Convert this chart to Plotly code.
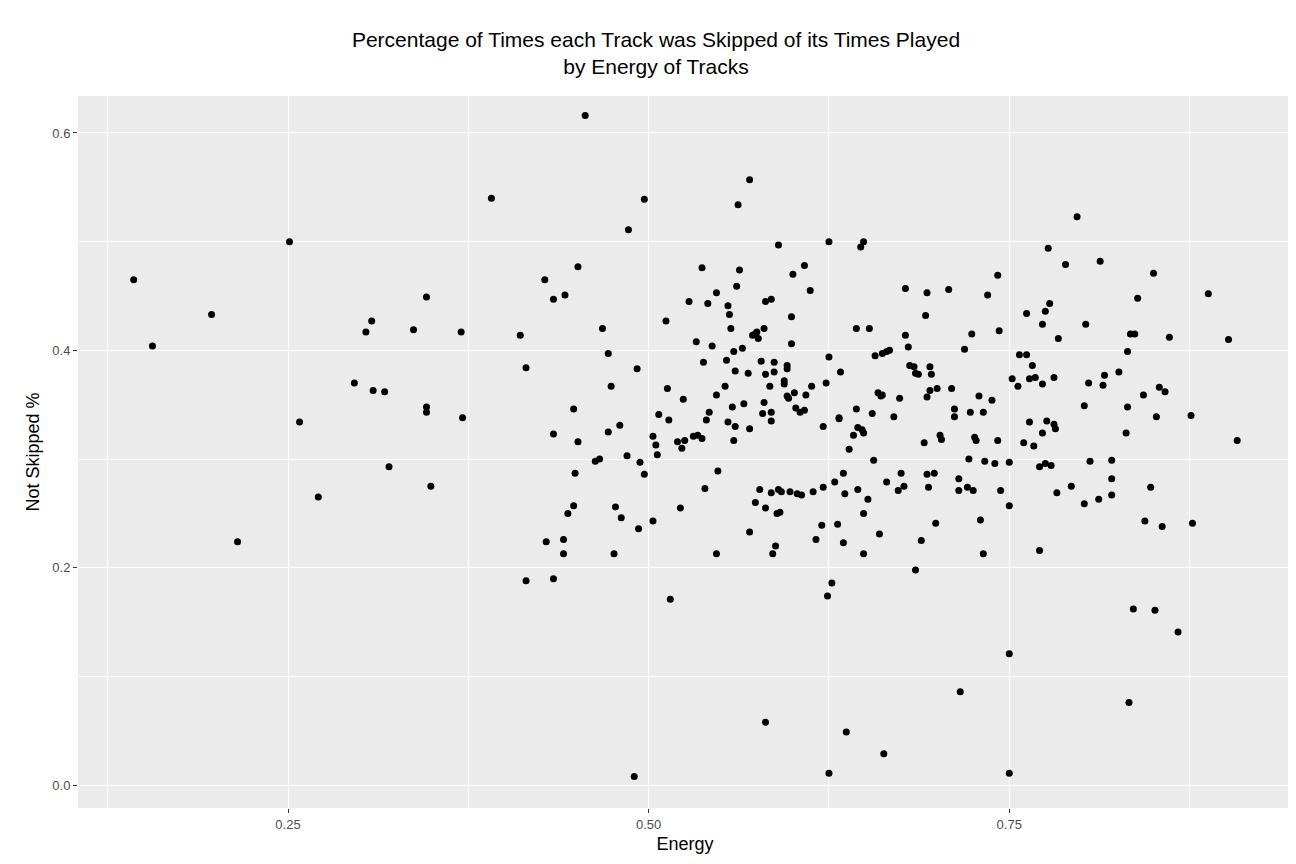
import plotly.graph_objects as go

# Energy and not-skipped share per track
energy = [0.143, 0.156, 0.197, 0.215, 0.251, 0.258, 0.271, 0.296, 0.304, 0.308, 0.309, 0.317, 0.320, 0.337, 0.346, 0.346, 0.346, 0.349, 0.370, 0.371,
          0.391, 0.411, 0.415, 0.415, 0.428, 0.429, 0.434, 0.434, 0.434, 0.441, 0.441, 0.442, 0.444, 0.448, 0.448, 0.449, 0.451, 0.451, 0.456, 0.463,
          0.466, 0.468, 0.472, 0.472, 0.474, 0.476, 0.477, 0.480, 0.481, 0.485, 0.486, 0.490, 0.492, 0.493, 0.494, 0.497, 0.497, 0.503, 0.503, 0.505,
          0.506, 0.507, 0.512, 0.513, 0.514, 0.515, 0.520, 0.522, 0.523, 0.524, 0.525, 0.528, 0.531, 0.533, 0.534, 0.537, 0.537, 0.538, 0.539, 0.540,
          0.541, 0.542, 0.544, 0.547, 0.547, 0.547, 0.548, 0.553, 0.554, 0.555, 0.555, 0.556, 0.557, 0.558, 0.559, 0.559, 0.560, 0.560, 0.561, 0.562,
          0.563, 0.565, 0.566, 0.569, 0.570, 0.570, 0.570, 0.572, 0.574, 0.574, 0.575, 0.576, 0.577, 0.578, 0.579, 0.580, 0.580, 0.581, 0.581, 0.581,
          0.581, 0.584, 0.585, 0.585, 0.585, 0.585, 0.586, 0.587, 0.587, 0.588, 0.589, 0.590, 0.590, 0.591, 0.592, 0.594, 0.594, 0.596, 0.596, 0.596,
          0.597, 0.598, 0.599, 0.599, 0.600, 0.601, 0.602, 0.603, 0.605, 0.606, 0.608, 0.608, 0.609, 0.612, 0.613, 0.614, 0.616, 0.620, 0.621, 0.621,
          0.623, 0.624, 0.625, 0.625, 0.625, 0.627, 0.629, 0.631, 0.632, 0.632, 0.633, 0.635, 0.635, 0.636, 0.637, 0.639, 0.642, 0.644, 0.644, 0.645,
          0.645, 0.647, 0.648, 0.649, 0.649, 0.649, 0.649, 0.652, 0.653, 0.655, 0.656, 0.657, 0.659, 0.660, 0.661, 0.662, 0.662, 0.663, 0.665, 0.665,
          0.667, 0.670, 0.673, 0.674, 0.675, 0.677, 0.678, 0.678, 0.680, 0.681, 0.684, 0.685, 0.685, 0.687, 0.689, 0.691, 0.692, 0.693, 0.693, 0.693,
          0.694, 0.695, 0.695, 0.696, 0.698, 0.699, 0.700, 0.702, 0.703, 0.708, 0.710, 0.712, 0.712, 0.715, 0.715, 0.716, 0.719, 0.721, 0.722, 0.723,
          0.724, 0.725, 0.726, 0.727, 0.729, 0.730, 0.732, 0.732, 0.733, 0.735, 0.738, 0.740, 0.742, 0.742, 0.743, 0.744, 0.750, 0.750, 0.750, 0.750,
          0.752, 0.756, 0.757, 0.760, 0.762, 0.762, 0.764, 0.764, 0.766, 0.767, 0.768, 0.771, 0.771, 0.773, 0.773, 0.773, 0.775, 0.775, 0.776, 0.777,
          0.778, 0.779, 0.781, 0.781, 0.782, 0.783, 0.784, 0.789, 0.793, 0.797, 0.802, 0.802, 0.803, 0.805, 0.806, 0.812, 0.813, 0.815, 0.816, 0.821,
          0.821, 0.821, 0.826, 0.831, 0.832, 0.832, 0.834, 0.833, 0.836, 0.837, 0.839, 0.843, 0.844, 0.848, 0.850, 0.851, 0.852, 0.854, 0.856, 0.858,
          0.861, 0.867, 0.876, 0.877, 0.888, 0.902, 0.908]
not_skipped = [0.465, 0.404, 0.433, 0.224, 0.500, 0.334, 0.265, 0.370, 0.417, 0.427, 0.363, 0.362, 0.293, 0.419, 0.449, 0.343, 0.348, 0.275, 0.417, 0.338,
               0.540, 0.414, 0.188, 0.384, 0.465, 0.224, 0.190, 0.323, 0.447, 0.226, 0.213, 0.451, 0.250, 0.257, 0.346, 0.287, 0.477, 0.316, 0.616, 0.298,
               0.300, 0.420, 0.397, 0.325, 0.367, 0.213, 0.256, 0.331, 0.246, 0.303, 0.511, 0.008, 0.383, 0.236, 0.297, 0.286, 0.539, 0.321, 0.243, 0.313,
               0.304, 0.341, 0.427, 0.365, 0.336, 0.171, 0.316, 0.255, 0.310, 0.355, 0.317, 0.445, 0.321, 0.408, 0.322, 0.476, 0.319, 0.389, 0.273, 0.336,
               0.443, 0.343, 0.404, 0.359, 0.453, 0.213, 0.289, 0.367, 0.391, 0.334, 0.441, 0.433, 0.420, 0.348, 0.399, 0.317, 0.381, 0.330, 0.459, 0.534,
               0.474, 0.402, 0.351, 0.379, 0.328, 0.233, 0.557, 0.414, 0.260, 0.415, 0.417, 0.411, 0.272, 0.390, 0.342, 0.352, 0.420, 0.445, 0.378, 0.058,
               0.255, 0.367, 0.447, 0.335, 0.269, 0.343, 0.213, 0.389, 0.380, 0.220, 0.250, 0.272, 0.497, 0.251, 0.270, 0.372, 0.369, 0.358, 0.386, 0.383,
               0.356, 0.270, 0.406, 0.431, 0.470, 0.361, 0.347, 0.268, 0.343, 0.267, 0.478, 0.345, 0.359, 0.455, 0.367, 0.270, 0.226, 0.239, 0.274, 0.330,
               0.370, 0.174, 0.500, 0.011, 0.394, 0.186, 0.279, 0.240, 0.338, 0.337, 0.380, 0.223, 0.287, 0.268, 0.049, 0.309, 0.322, 0.346, 0.420, 0.329,
               0.272, 0.495, 0.327, 0.324, 0.213, 0.250, 0.500, 0.263, 0.420, 0.342, 0.299, 0.395, 0.361, 0.231, 0.358, 0.397, 0.359, 0.029, 0.399, 0.279,
               0.400, 0.339, 0.271, 0.356, 0.287, 0.275, 0.457, 0.414, 0.403, 0.386, 0.385, 0.198, 0.379, 0.378, 0.225, 0.315, 0.432, 0.453, 0.357, 0.286,
               0.274, 0.363, 0.385, 0.378, 0.287, 0.241, 0.365, 0.322, 0.318, 0.456, 0.365, 0.339, 0.346, 0.271, 0.282, 0.086, 0.401, 0.274, 0.300, 0.343,
               0.415, 0.271, 0.320, 0.317, 0.358, 0.244, 0.213, 0.343, 0.298, 0.451, 0.354, 0.296, 0.317, 0.469, 0.418, 0.271, 0.297, 0.257, 0.121, 0.011,
               0.374, 0.367, 0.396, 0.315, 0.396, 0.434, 0.334, 0.374, 0.386, 0.312, 0.375, 0.293, 0.216, 0.424, 0.369, 0.324, 0.436, 0.296, 0.335, 0.494,
               0.443, 0.294, 0.332, 0.375, 0.328, 0.269, 0.411, 0.479, 0.275, 0.523, 0.349, 0.259, 0.424, 0.370, 0.298, 0.263, 0.482, 0.368, 0.377, 0.282,
               0.299, 0.267, 0.380, 0.324, 0.348, 0.399, 0.415, 0.076, 0.162, 0.415, 0.448, 0.359, 0.243, 0.274, 0.471, 0.161, 0.339, 0.366, 0.238, 0.362,
               0.412, 0.141, 0.340, 0.241, 0.452, 0.410, 0.317]

x_ticks = [0.25, 0.50, 0.75]
x_tick_labels = ["0.25", "0.50", "0.75"]
y_ticks = [0.0, 0.2, 0.4, 0.6]
y_tick_labels = ["0.0", "0.2", "0.4", "0.6"]

fig = go.Figure()
fig.add_trace(
    go.Scatter(
        x=energy,
        y=not_skipped,
        mode='markers',
        marker=dict(color='black', size=7),
        showlegend=False
    )
)

axis_common = dict(
    showgrid=True, gridcolor='white', gridwidth=1.3,
    zeroline=False, showline=False, automargin=False,
    ticks='outside', ticklen=4, tickcolor='#333333', tickwidth=1,
    tickfont=dict(family='Liberation Sans', size=13, color='#4D4D4D'),
)

fig.update_layout(
    width=1296, height=864,
    paper_bgcolor='white',
    plot_bgcolor='#EBEBEB',
    margin=dict(l=70, r=12, t=88, b=64),
    title=dict(
        text="Percentage of Times each Track was Skipped of its Times Played<br>by Energy of Tracks",
        x=0.5, xanchor='center', y=0.955, yanchor='top', automargin=False,
        font=dict(family='Liberation Sans', size=21, color='black')
    ),
    xaxis=dict(
        axis_common,
        range=[0.1044, 0.946],
        tickvals=x_ticks, ticktext=x_tick_labels,
        minor=dict(tickvals=[0.125, 0.375, 0.625, 0.875], showgrid=True,
                   gridcolor='white', gridwidth=0.6, ticks=''),
        title=dict(text="Energy", font=dict(family='Liberation Sans', size=18, color='black'), standoff=6)
    ),
    yaxis=dict(
        axis_common,
        range=[-0.021, 0.634],
        tickvals=y_ticks, ticktext=y_tick_labels,
        minor=dict(tickvals=[0.1, 0.3, 0.5], showgrid=True,
                   gridcolor='white', gridwidth=0.6, ticks=''),
        title=dict(text="Not Skipped %", font=dict(family='Liberation Sans', size=18, color='black'), standoff=8)
    )
)

fig.write_html("out.html")
